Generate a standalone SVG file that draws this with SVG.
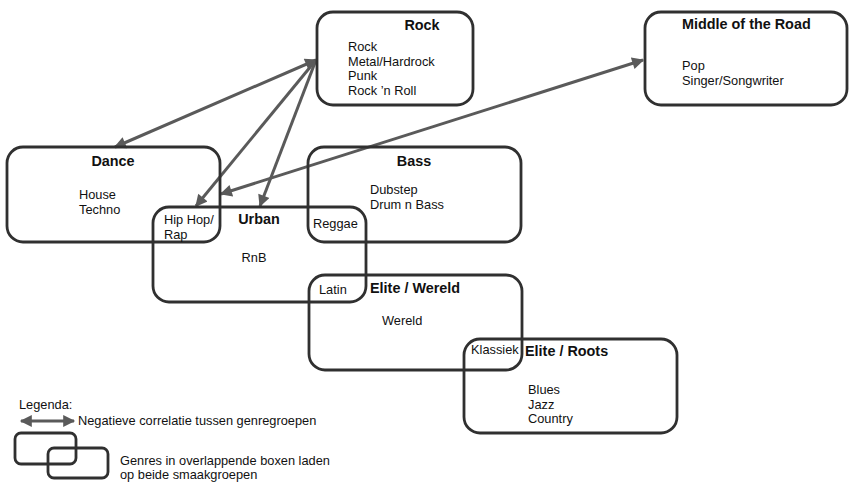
<svg xmlns="http://www.w3.org/2000/svg" width="850" height="482" viewBox="0 0 850 482">
<defs>
<marker id="ah" viewBox="0 0 10 10" refX="9" refY="5" markerWidth="4.4" markerHeight="4" markerUnits="strokeWidth" orient="auto-start-reverse">
<path d="M0,0 L10,5 L0,10 z" fill="#5a5a5a"/>
</marker>
<style>
.box{fill:none;stroke:#303030;stroke-width:2.8}
.t{font-family:"Liberation Sans",Arial,sans-serif;font-size:12.8px;fill:#111}
.h{font-family:"Liberation Sans",Arial,sans-serif;font-size:14.4px;font-weight:bold;fill:#111}
.c{fill:none;stroke:#5a5a5a;stroke-width:3}
</style>
</defs>
<rect width="850" height="482" fill="#fff"/>
<g id="connectors">
<line class="c" x1="115" y1="147" x2="316" y2="60" marker-start="url(#ah)" marker-end="url(#ah)"/>
<line class="c" x1="316" y1="60" x2="196" y2="206" marker-end="url(#ah)"/>
<line class="c" x1="316" y1="60" x2="260" y2="206" marker-end="url(#ah)"/>
<line class="c" x1="221" y1="194" x2="643" y2="60" marker-start="url(#ah)" marker-end="url(#ah)"/>
</g>
<g id="rock">
<rect class="box" x="317" y="12" width="156" height="93" rx="16"/>
<text class="h" x="422" y="30" text-anchor="middle">Rock</text>
<text class="t" x="348" y="51">Rock</text>
<text class="t" x="348" y="65.5">Metal/Hardrock</text>
<text class="t" x="348" y="80">Punk</text>
<text class="t" x="348" y="94.5">Rock ’n Roll</text>
</g>
<g id="middle">
<rect class="box" x="645" y="12" width="202" height="93" rx="16"/>
<text class="h" x="682" y="29">Middle of the Road</text>
<text class="t" x="682" y="70">Pop</text>
<text class="t" x="682" y="84.5">Singer/Songwriter</text>
</g>
<g id="dance">
<rect class="box" x="7" y="147" width="213" height="95" rx="16"/>
<text class="h" x="113" y="166" text-anchor="middle">Dance</text>
<text class="t" x="79" y="199">House</text>
<text class="t" x="79" y="213.5">Techno</text>
</g>
<g id="bass">
<rect class="box" x="308" y="147" width="213" height="95" rx="16"/>
<text class="h" x="414" y="166" text-anchor="middle">Bass</text>
<text class="t" x="370" y="194">Dubstep</text>
<text class="t" x="370" y="208.5">Drum n Bass</text>
</g>
<g id="urban">
<rect class="box" x="153" y="207" width="213" height="95" rx="16"/>
<text class="h" x="259" y="224" text-anchor="middle">Urban</text>
<text class="t" x="164" y="224">Hip Hop/</text>
<text class="t" x="164" y="238.5">Rap</text>
<text class="t" x="254" y="262" text-anchor="middle">RnB</text>
<text class="t" x="313" y="228">Reggae</text>
</g>
<g id="elite-wereld">
<rect class="box" x="309" y="275" width="213" height="95" rx="16"/>
<text class="h" x="370" y="293">Elite / Wereld</text>
<text class="t" x="319" y="294">Latin</text>
<text class="t" x="382" y="325">Wereld</text>
<text class="t" x="471" y="354">Klassiek</text>
</g>
<g id="elite-roots">
<rect class="box" x="464" y="339" width="213" height="94" rx="16"/>
<text class="h" x="525" y="356">Elite / Roots</text>
<text class="t" x="528" y="394">Blues</text>
<text class="t" x="528" y="408.5">Jazz</text>
<text class="t" x="528" y="423">Country</text>
</g>
<g id="legend">
<text class="t" x="19" y="409">Legenda:</text>
<line class="c" x1="21" y1="421" x2="74" y2="421" marker-start="url(#ah)" marker-end="url(#ah)"/>
<text class="t" x="78" y="424.5">Negatieve correlatie tussen genregroepen</text>
<rect class="box" x="15" y="433" width="61" height="31" rx="6"/>
<rect class="box" x="48" y="448" width="60" height="30" rx="6"/>
<text class="t" x="120" y="464.5">Genres in overlappende boxen laden</text>
<text class="t" x="120" y="479">op beide smaakgroepen</text>
</g>
</svg>
